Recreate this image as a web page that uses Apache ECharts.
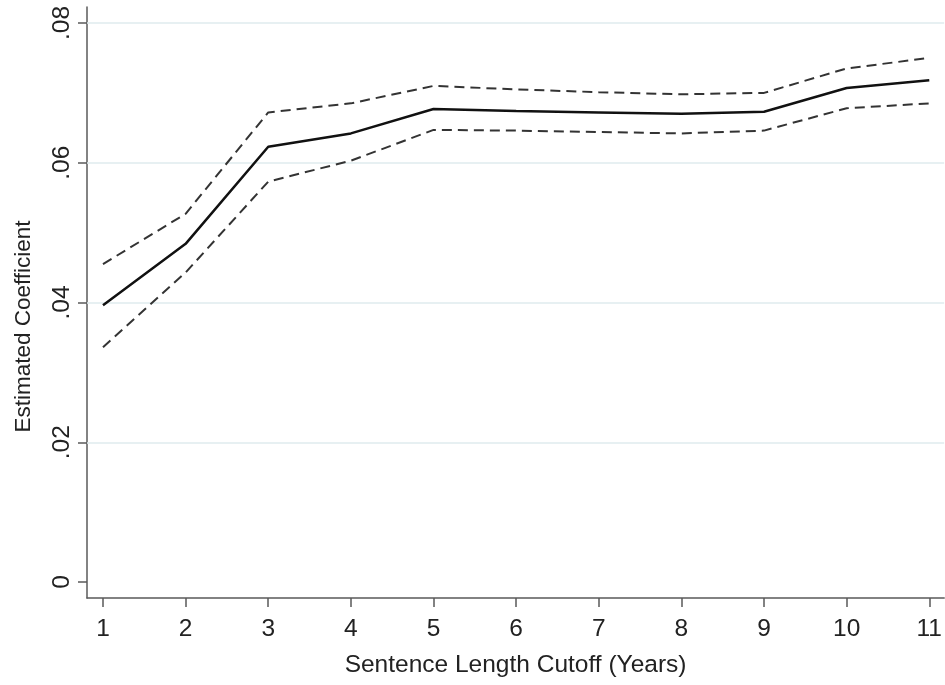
<!DOCTYPE html>
<html>
<head>
<meta charset="utf-8">
<script src="https://cdn.jsdelivr.net/npm/echarts@6/dist/echarts.min.js"></script>
<style>
html,body{margin:0;padding:0;background:#fff;}
#chart{width:945px;height:685px;}
</style>
</head>
<body>
<div id="chart"></div>
<script>
var years = [1, 2, 3, 4, 5, 6, 7, 8, 9, 10, 11];
var coef  = [0.0396, 0.0484, 0.0623, 0.0642, 0.0677, 0.0674, 0.0672, 0.0670, 0.0673, 0.0707, 0.0718];
var upper = [0.0455, 0.0527, 0.0672, 0.0685, 0.0710, 0.0705, 0.0701, 0.0698, 0.0700, 0.0735, 0.0750];
var lower = [0.0336, 0.0443, 0.0573, 0.0603, 0.0647, 0.0646, 0.0644, 0.0642, 0.0646, 0.0678, 0.0685];
var xTicks = [1, 2, 3, 4, 5, 6, 7, 8, 9, 10, 11];
var yTicks = [0, 0.02, 0.04, 0.06, 0.08];
var gridValues = [0.02, 0.04, 0.06, 0.08];

function pairs(ys) { return years.map(function (x, i) { return [x, ys[i]]; }); }

var FONT = 'Liberation Sans, Arial, sans-serif';
var AXIS_COLOR = '#5a5a5a';
var FS = 24.5;

var chart = echarts.init(document.getElementById('chart'), null, { renderer: 'canvas' });
chart.setOption({
  animation: false,
  backgroundColor: '#ffffff',
  grid: { left: 87, right: 0, top: 7, bottom: 87, containLabel: false },
  xAxis: {
    type: 'value',
    min: 0.8065,
    max: 11.18,
    name: 'Sentence Length Cutoff (Years)',
    nameLocation: 'middle',
    nameGap: 55,
    nameTextStyle: { fontFamily: FONT, fontSize: FS, color: '#222' },
    axisLine: { show: true, onZero: false, lineStyle: { color: AXIS_COLOR, width: 1.5 } },
    axisTick: { show: true, length: 9, customValues: xTicks, lineStyle: { color: AXIS_COLOR, width: 1.5 } },
    axisLabel: { customValues: xTicks, margin: 19, fontFamily: FONT, fontSize: FS, color: '#222' },
    splitLine: { show: false }
  },
  yAxis: {
    type: 'value',
    min: -0.002286,
    max: 0.08229,
    name: 'Estimated Coefficient',
    nameLocation: 'middle',
    nameGap: 52,
    nameTextStyle: { fontFamily: FONT, fontSize: 22.5, color: '#222', padding: [0, 48, 0, 0] },
    axisLine: { show: true, onZero: false, lineStyle: { color: AXIS_COLOR, width: 1.5 } },
    axisTick: { show: true, length: 9, customValues: yTicks, lineStyle: { color: AXIS_COLOR, width: 1.5 } },
    axisLabel: {
      customValues: yTicks,
      rotate: 90,
      margin: 12,
      fontFamily: FONT, fontSize: FS, color: '#222',
      formatter: function (v) { return v === 0 ? '0' : String(v).replace(/^0/, ''); }
    },
    splitLine: { show: false }
  },
  series: [
    {
      type: 'line',
      data: pairs(upper),
      symbol: 'none',
      lineStyle: { color: '#333333', width: 2, type: [10, 6] },
      z: 3
    },
    {
      type: 'line',
      data: pairs(lower),
      symbol: 'none',
      lineStyle: { color: '#333333', width: 2, type: [10, 6] },
      z: 3
    },
    {
      type: 'line',
      data: pairs(coef),
      symbol: 'none',
      lineStyle: { color: '#111111', width: 2.5 },
      z: 4,
      markLine: {
        silent: true,
        symbol: 'none',
        label: { show: false },
        lineStyle: { color: '#dfebee', width: 1.5, type: 'solid' },
        emphasis: { disabled: true },
        data: gridValues.map(function (v) { return { yAxis: v }; }),
        z: 1
      }
    }
  ]
});
</script>
</body>
</html>
